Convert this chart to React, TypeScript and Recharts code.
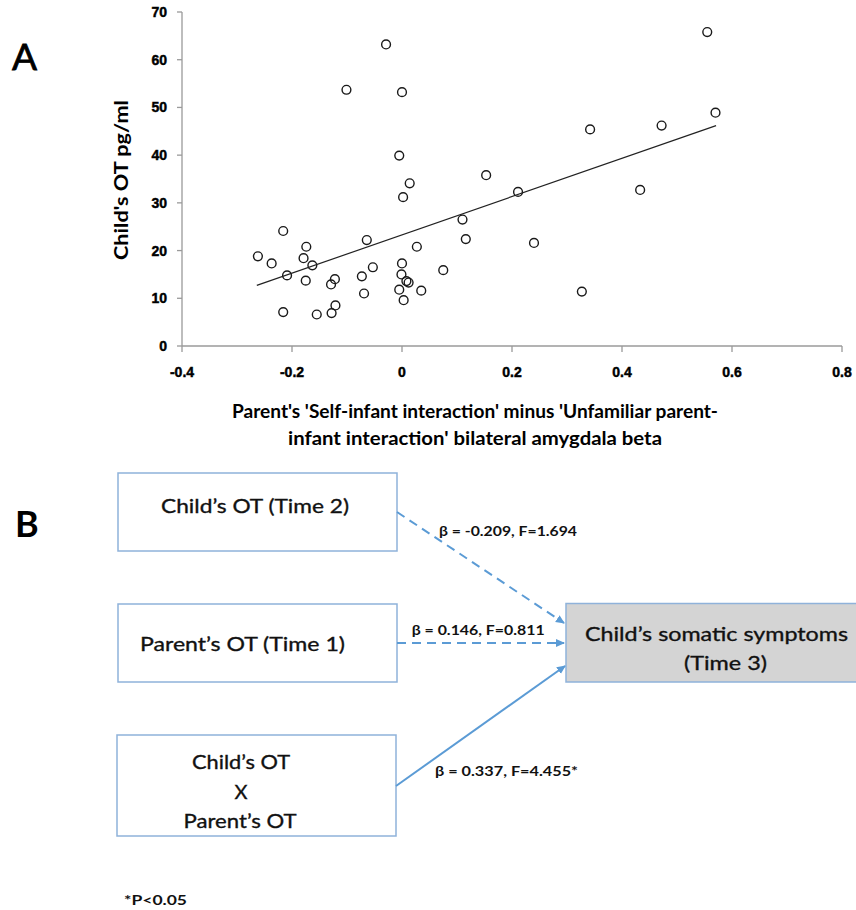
import React from "react";
import { ScatterChart, Scatter, XAxis, YAxis } from "recharts";

// Panel A data: parent's amygdala beta difference (x) vs child's OT pg/ml (y)
const betaValues = [
  -0.262, -0.237, -0.216, -0.209, -0.216, -0.174, -0.179, -0.175, -0.163, -0.155,
  -0.129, -0.122, -0.121, -0.128, -0.073, -0.069, -0.064, -0.053, 0.0, -0.001,
  -0.005, 0.003, 0.008, 0.012, 0.027, 0.035, 0.002, 0.014, 0.075, 0.11,
  0.116, -0.029, -0.101, 0.0, -0.005, 0.555, 0.57, 0.472, 0.342, 0.153,
  0.211, 0.433, 0.24, 0.327,
];
const childOT = [
  18.8, 17.3, 24.1, 14.8, 7.1, 20.8, 18.4, 13.7, 16.9, 6.6,
  12.9, 14.0, 8.5, 6.9, 14.6, 11.0, 22.2, 16.5, 17.3, 15.0,
  11.8, 9.6, 13.6, 13.3, 20.8, 11.6, 31.2, 34.1, 15.9, 26.5,
  22.4, 63.2, 53.7, 53.2, 39.9, 65.8, 48.9, 46.2, 45.4, 35.8,
  32.3, 32.7, 21.6, 11.4,
];
const trendX = [-0.264, 0.571];
const trendY = [12.7, 46.2];
const xTicks = [-0.4, -0.2, 0, 0.2, 0.4, 0.6, 0.8];
const yTicks = [0, 10, 20, 30, 40, 50, 60, 70];

const xTitleLines = [
  "Parent's 'Self-infant interaction' minus 'Unfamiliar parent-",
  "infant interaction' bilateral amygdala beta",
];
const yTitle = "Child's OT pg/ml";

// Panel B texts
const boxChild2 = "Child’s OT (Time 2)";
const boxParent1 = "Parent’s OT (Time 1)";
const boxInteraction = ["Child’s OT", "X", "Parent’s OT"];
const boxOutcome = ["Child’s somatic symptoms", "(Time 3)"];
const pathLabels = ["β = -0.209, F=1.694", "β = 0.146, F=0.811", "β = 0.337, F=4.455*"];
const footnote = "*P<0.05";

const points = betaValues.map((x, i) => ({ x, y: childOT[i] }));
const trend = trendX.map((x, i) => ({ x, y: trendY[i] }));

const FONT = "Lato, 'Open Sans', sans-serif";
const TICK_FONT = "'Liberation Sans', Arial, sans-serif";
const AXIS_GRAY = "#9a9a9a";
const BLUE = "#5b9bd5";
const BOX_BORDER = "#8fb2da";

const Circle = (props: any) => (
  <circle cx={props.cx} cy={props.cy} r={4.4} fill="none" stroke="#1a1a1a" strokeWidth={1.4} />
);

const fmt = (v: number) => (v === 0 ? "0" : String(v));

const XTick = (props: any) => {
  const { x, y, payload } = props;
  return (
    <text
      x={x}
      y={y}
      dy="0.71em"
      textAnchor="middle"
      fontFamily={TICK_FONT}
      fontWeight="bold"
      fontSize={14}
      fill="#000"
      stroke="#000"
      strokeWidth={0.45}
    >
      {fmt(payload.value)}
    </text>
  );
};

const YTick = (props: any) => {
  const { x, y, payload } = props;
  return (
    <text
      x={x}
      y={y}
      dy="0.355em"
      textAnchor="end"
      fontFamily={TICK_FONT}
      fontWeight="bold"
      fontSize={14}
      fill="#000"
      stroke="#000"
      strokeWidth={0.45}
    >
      {fmt(payload.value)}
    </text>
  );
};

const YTitle = (props: any) => {
  const vb = props.viewBox || { x: 0, y: 12, width: 182, height: 334 };
  const cx = vb.x + 120;
  const cy = vb.y + vb.height / 2 + 1;
  return (
    <text
      transform={`translate(${cx},${cy}) rotate(-90)`}
      textAnchor="middle"
      dominantBaseline="central"
      fontFamily={FONT}
      fontWeight="bold"
      fontSize={19}
      fill="#000"
      textLength={160}
      lengthAdjust="spacingAndGlyphs"
    >
      {yTitle}
    </text>
  );
};

const XTitle = () => (
  <g>
    <text
      x={475}
      y={411}
      textAnchor="middle"
      dominantBaseline="central"
      fontFamily={FONT}
      fontWeight="bold"
      fontSize={18}
      fill="#000"
      textLength={486}
      lengthAdjust="spacingAndGlyphs"
    >
      {xTitleLines[0]}
    </text>
    <text
      x={475}
      y={438}
      textAnchor="middle"
      dominantBaseline="central"
      fontFamily={FONT}
      fontWeight="bold"
      fontSize={18}
      fill="#000"
      textLength={374}
      lengthAdjust="spacingAndGlyphs"
    >
      {xTitleLines[1]}
    </text>
  </g>
);

const PanelB = () => {
  const off = 460;
  const t = (s: string, x: number, y: number, size: number, anchor: any = "middle", weight: any = "normal", len?: number) => (
    <text
      x={x}
      y={y - off}
      textAnchor={anchor}
      dominantBaseline="central"
      fontFamily={FONT}
      fontWeight={weight}
      fontSize={size}
      fill="#111"
      stroke={weight === "normal" ? "#111" : "none"}
      strokeWidth={weight === "normal" ? 0.35 : 0}
      {...(len ? { textLength: len, lengthAdjust: "spacingAndGlyphs" } : {})}
    >
      {s}
    </text>
  );
  return (
    <svg width={856} height={450} style={{ position: "absolute", left: 0, top: off }}>
      <defs>
        <marker id="arrowHead" markerWidth="10" markerHeight="10" refX="8" refY="5" orient="auto" markerUnits="userSpaceOnUse">
          <path d="M0,1 L9,5 L0,9 Z" fill={BLUE} />
        </marker>
      </defs>
      {/* label B */}
      <text x={15} y={536.7 - off} fontFamily={FONT} fontWeight="bold" fontSize={36} fill="#000">B</text>

      {/* boxes */}
      <rect x={118} y={473 - off} width={279} height={78} fill="#fff" stroke={BOX_BORDER} strokeWidth={1.5} />
      <rect x={118} y={604 - off} width={279} height={78} fill="#fff" stroke={BOX_BORDER} strokeWidth={1.5} />
      <rect x={117} y={735 - off} width={279} height={101} fill="#fff" stroke={BOX_BORDER} strokeWidth={1.5} />
      <rect x={566} y={603.5 - off} width={300} height={78.5} fill="#d4d4d4" stroke={BOX_BORDER} strokeWidth={1.5} />

      {/* box texts */}
      {t(boxChild2, 255, 505, 20, "middle", "normal", 188)}
      {t(boxParent1, 242.5, 643, 20, "middle", "normal", 205)}
      {t(boxInteraction[0], 241, 761, 20, "middle", "normal", 98)}
      {t(boxInteraction[1], 241, 791, 20)}
      {t(boxInteraction[2], 240, 820, 20, "middle", "normal", 113)}
      {t(boxOutcome[0], 716.5, 633, 20, "middle", "normal", 263)}
      {t(boxOutcome[1], 725.5, 662, 20, "middle", "normal", 83)}

      {/* arrows */}
      <line x1={397} y1={512 - off} x2={564} y2={623 - off} stroke={BLUE} strokeWidth={2} strokeDasharray="9 6" markerEnd="url(#arrowHead)" />
      <line x1={397} y1={643 - off} x2={564} y2={643 - off} stroke={BLUE} strokeWidth={2} strokeDasharray="9 6" markerEnd="url(#arrowHead)" />
      <line x1={396} y1={786 - off} x2={565} y2={666 - off} stroke={BLUE} strokeWidth={2} markerEnd="url(#arrowHead)" />

      {/* path labels */}
      {t(pathLabels[0], 439, 531, 13, "start", "bold", 138)}
      {t(pathLabels[1], 411.7, 630, 13, "start", "bold", 133)}
      {t(pathLabels[2], 435, 771, 13, "start", "bold", 143)}

      {/* footnote */}
      {t(footnote, 124, 900, 13, "start", "bold", 63)}
    </svg>
  );
};

export default function App() {
  return (
    <div style={{ position: "absolute", left: 0, top: 0, width: 856, height: 910, background: "#fff", fontFamily: FONT, overflow: "hidden" }}>
      <svg width={60} height={80} style={{ position: "absolute", left: 0, top: 0 }}>
        <text x={12} y={70} fontFamily={FONT} fontSize={37} fill="#000" stroke="#000" strokeWidth={0.8}>A</text>
      </svg>
      <div style={{ position: "absolute", left: 0, top: 0 }}>
        <ScatterChart width={856} height={460} margin={{ top: 12, right: 14, bottom: 0, left: 0 }}>
          <XAxis
            type="number"
            dataKey="x"
            domain={[-0.4, 0.8]}
            ticks={xTicks}
            height={114}
            tickSize={6}
            tickMargin={15}
            axisLine={{ stroke: AXIS_GRAY, strokeWidth: 1.3 }}
            tickLine={{ stroke: AXIS_GRAY, strokeWidth: 1.3 }}
            tick={<XTick />}
            interval={0}
            allowDataOverflow
            label={{ content: () => <XTitle /> }}
          />
          <YAxis
            type="number"
            dataKey="y"
            domain={[0, 70]}
            ticks={yTicks}
            width={182}
            tickSize={5}
            tickMargin={10}
            axisLine={{ stroke: AXIS_GRAY, strokeWidth: 1.3 }}
            tickLine={{ stroke: AXIS_GRAY, strokeWidth: 1.3 }}
            tick={<YTick />}
            interval={0}
            allowDataOverflow
            label={{ content: (p: any) => <YTitle {...p} /> }}
          />
          <Scatter data={points} shape={Circle} isAnimationActive={false} />
          <Scatter
            data={trend}
            line={{ stroke: "#222", strokeWidth: 1.2 }}
            shape={() => <g />}
            isAnimationActive={false}
          />
        </ScatterChart>
      </div>
      <PanelB />
    </div>
  );
}
